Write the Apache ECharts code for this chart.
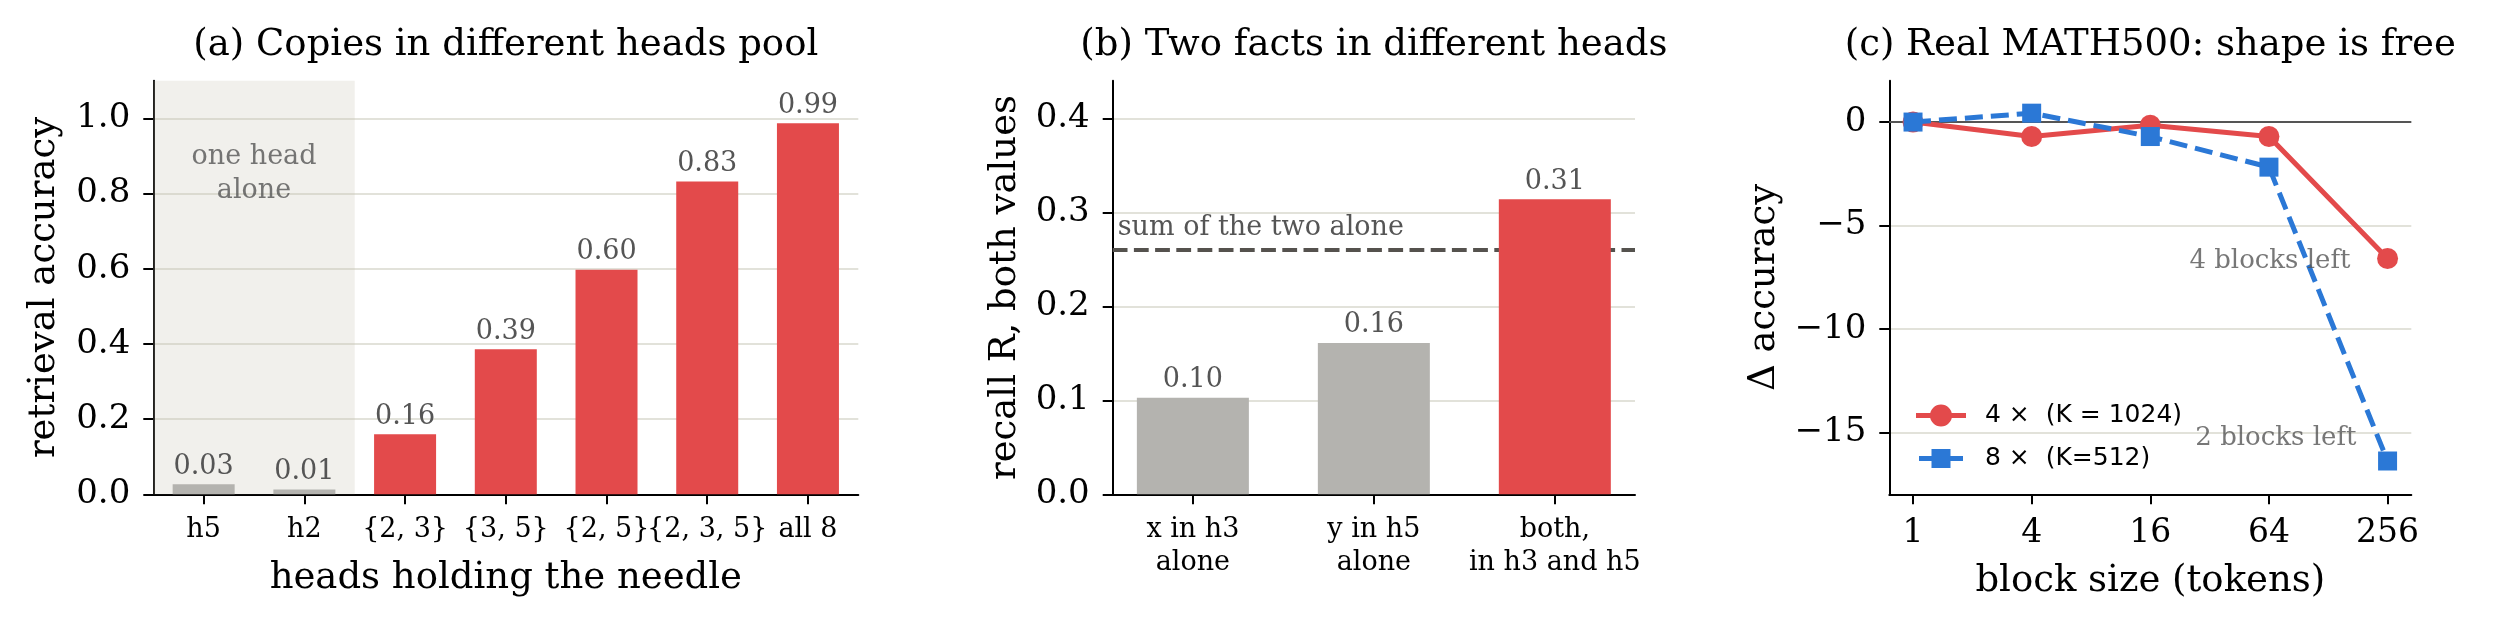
<!DOCTYPE html>
<html><head><meta charset="utf-8">
<script src="https://cdn.jsdelivr.net/npm/echarts@6/dist/echarts.min.js"></script>
<style>html,body{margin:0;padding:0;background:#fff}#c{width:2506px;height:627px}</style>
</head><body><div id="c"></div><script>
// ---- data (a) ----
const headsCats = ['h5', 'h2', '{2, 3}', '{3, 5}', '{2, 5}', '{2, 3, 5}', 'all 8'];
const headsAcc = [0.027, 0.013, 0.16, 0.386, 0.597, 0.832, 0.987];
const headsAlone = [true, true, false, false, false, false, false];
const aTicks = [0, 0.2, 0.4, 0.6, 0.8, 1.0];
const aloneSpan = [-0.5, 1.5];
const aloneNote = {text: 'one head\nalone', x: 0.5, y: 0.853};
// ---- data (b) ----
const factCats = ['x in h3\nalone', 'y in h5\nalone', 'both,\nin h3 and h5'];
const factRecall = [0.1026, 0.161, 0.314];
const factBoth = [false, false, true];
const bTicks = [0, 0.1, 0.2, 0.3, 0.4];
const sumAlone = 0.2636;
// ---- data (c) ----
const blockSizes = [1, 4, 16, 64, 256];
const acc4x = [0, -0.7, -0.15, -0.7, -6.6];
const acc8x = [0, 0.43, -0.7, -2.18, -16.39];
const cTicks = [-15, -10, -5, 0];
const cNotes = [{text: '4 blocks left', x: 166, y: -6.75}, {text: '2 blocks left', x: 178, y: -15.3}];
const seriesNames = ['4 \u00d7  (K = 1024)', '8 \u00d7  (K=512)'];

const SERIF = 'DejaVu Serif', SANS = 'DejaVu Sans';
const RED = '#e34a4b', GRAY = '#b4b3af', BLUE = '#2b78d6', TXT = '#555555', GRIDC = '#e2e2da';
// legend glyphs: thick line + marker (50x22 box)
const ICON_RED = 'path://M0,8.5L50,8.5L50,13.5L0,13.5Z M14,11A11,11 0 1,1 36,11A11,11 0 1,1 14,11Z';
const ICON_BLUE = 'path://M0,0L0.01,0L0,0.01Z M50,22L49.99,22L50,21.99Z M3,8.5L47,8.5L47,13.5L3,13.5Z M15.5,1.5L34.5,1.5L34.5,20.5L15.5,20.5Z';

const chart = echarts.init(document.getElementById('c'), null, {renderer: 'canvas'});
const minus = v => (v < 0 ? '\u2212' + Math.abs(v) : String(v));

function yAxis(gi, min, max, ticks, fmt, name, gap) {
  return {
    type: 'value', gridIndex: gi, min: min, max: max,
    axisLine: {show: true, onZero: false, lineStyle: {color: '#000', width: 2}},
    axisTick: {show: true, length: 10, customValues: ticks, lineStyle: {color: '#000', width: 2}},
    axisLabel: {customValues: ticks, formatter: fmt, margin: 23, fontFamily: SERIF, fontSize: 34, color: '#000'},
    splitLine: {show: true, lineStyle: {color: GRIDC, width: 2}},
    name: name, nameLocation: 'middle', nameGap: gap,
    nameTextStyle: {fontFamily: SERIF, fontSize: 37, color: '#000'}
  };
}
function xAxisBase(gi) {
  return {
    gridIndex: gi,
    axisLine: {show: true, onZero: false, lineStyle: {color: '#000', width: 2}},
    splitLine: {show: false}
  };
}

const option = {
  animation: false,
  backgroundColor: '#fff',
  title: [
    {text: '(a) Copies in different heads pool', left: 505.8, top: 27, textAlign: 'center', padding: 0,
     textStyle: {fontFamily: SERIF, fontSize: 37, fontWeight: 'normal', color: '#000'}},
    {text: '(b) Two facts in different heads', left: 1373.9, top: 27, textAlign: 'center', padding: 0,
     textStyle: {fontFamily: SERIF, fontSize: 37, fontWeight: 'normal', color: '#000'}},
    {text: '(c) Real MATH500: shape is free', left: 2150.3, top: 27, textAlign: 'center', padding: 0,
     textStyle: {fontFamily: SERIF, fontSize: 37, fontWeight: 'normal', color: '#000'}}
  ],
  grid: [
    {left: 153.3, top: 80.7, width: 705, height: 413.6, containLabel: false, outerBoundsMode: 'none'},
    {left: 1112.7, top: 80.7, width: 522.3, height: 413.6, containLabel: false, outerBoundsMode: 'none'},
    {left: 1889.3, top: 80.7, width: 522, height: 413.6, containLabel: false, outerBoundsMode: 'none'}
  ],
  legend: {
    left: 1911, top: 398, orient: 'vertical', itemWidth: 50, itemHeight: 22, itemGap: 18,
    symbolKeepAspect: true,
    textStyle: {fontFamily: SANS, fontSize: 25, color: '#000', padding: [0, 0, 0, 14]},
    data: [
      {name: seriesNames[0], icon: ICON_RED, itemStyle: {color: RED, borderWidth: 0}},
      {name: seriesNames[1], icon: ICON_BLUE, itemStyle: {color: BLUE, borderWidth: 0}}
    ]
  },
  xAxis: [
    Object.assign(xAxisBase(0), {
      type: 'value', min: -0.5, max: 6.5,
      axisTick: {show: true, length: 10, customValues: headsCats.map((c, i) => i), lineStyle: {color: '#000', width: 2}},
      axisLabel: {customValues: headsCats.map((c, i) => i), formatter: v => headsCats[Math.round(v)],
                  margin: 22, fontFamily: SERIF, fontSize: 27, color: '#000'},
      name: 'heads holding the needle', nameLocation: 'middle', nameGap: 66,
      nameTextStyle: {fontFamily: SERIF, fontSize: 37, color: '#000'}
    }),
    Object.assign(xAxisBase(1), {
      type: 'value', min: -0.443, max: 2.443,
      axisTick: {show: true, length: 10, customValues: factCats.map((c, i) => i), lineStyle: {color: '#000', width: 2}},
      axisLabel: {customValues: factCats.map((c, i) => i), formatter: v => factCats[Math.round(v)],
                  margin: 19, fontFamily: SERIF, fontSize: 27, lineHeight: 33, color: '#000'}
    }),
    Object.assign(xAxisBase(2), {
      type: 'log', logBase: 4, min: Math.pow(4, -0.2), max: Math.pow(4, 4.2),
      axisTick: {show: true, length: 10, customValues: blockSizes, lineStyle: {color: '#000', width: 2}},
      axisLabel: {customValues: blockSizes, formatter: v => String(Math.round(v)),
                  margin: 23, fontFamily: SERIF, fontSize: 33, color: '#000'},
      name: 'block size (tokens)', nameLocation: 'middle', nameGap: 69,
      nameTextStyle: {fontFamily: SERIF, fontSize: 37, color: '#000'}
    })
  ],
  yAxis: [
    yAxis(0, 0, 1.1, aTicks, v => v.toFixed(1), 'retrieval accuracy', 90),
    yAxis(1, 0, 0.44, bTicks, v => v.toFixed(1), 'recall R, both values', 89),
    yAxis(2, -18, 2, cTicks, minus, '\u0394 accuracy', 106)
  ],
  series: [
    // (a) shaded region + note
    {
      type: 'scatter', xAxisIndex: 0, yAxisIndex: 0, z: 1, silent: true, symbolSize: 0,
      data: [[aloneNote.x, aloneNote.y]],
      label: {show: true, position: 'inside', formatter: aloneNote.text, fontFamily: SERIF, fontSize: 27,
              lineHeight: 34, color: TXT},
      markArea: {silent: true, z: 1, itemStyle: {color: 'rgba(200,196,180,0.25)'},
                 data: [[{xAxis: aloneSpan[0]}, {xAxis: aloneSpan[1]}]]}
    },
    {
      type: 'bar', xAxisIndex: 0, yAxisIndex: 0, barWidth: 62, z: 2,
      data: headsAcc.map((v, i) => ({value: [i, v], itemStyle: {color: headsAlone[i] ? GRAY : RED}})),
      label: {show: true, position: 'top', distance: 4, formatter: p => p.value[1].toFixed(2),
              fontFamily: SERIF, fontSize: 27, color: TXT}
    },
    // (b)
    {
      type: 'bar', xAxisIndex: 1, yAxisIndex: 1, barWidth: 112, z: 2,
      data: factRecall.map((v, i) => ({value: [i, v], itemStyle: {color: factBoth[i] ? RED : GRAY}})),
      label: {show: true, position: 'top', distance: 4, formatter: p => p.value[1].toFixed(2),
              fontFamily: SERIF, fontSize: 27, color: TXT},
      markLine: {
        silent: true, z: 1, symbol: ['none', 'none'],
        lineStyle: {color: '#55524e', width: 4, type: [14.8, 6.4]},
        label: {show: true, position: 'insideStartTop', distance: [5, 8], formatter: 'sum of the two alone',
                fontFamily: SERIF, fontSize: 27, color: TXT},
        data: [{yAxis: sumAlone}]
      }
    },
    // (c)
    {
      name: seriesNames[0], type: 'line', xAxisIndex: 2, yAxisIndex: 2, z: 3,
      data: blockSizes.map((b, i) => [b, acc4x[i]]),
      symbol: 'circle', symbolSize: 21, itemStyle: {color: RED}, lineStyle: {color: RED, width: 5},
      markLine: {silent: true, z: 1, symbol: ['none', 'none'], label: {show: false},
                 lineStyle: {color: '#555555', width: 2, type: 'solid'}, data: [{yAxis: 0}]}
    },
    {
      name: seriesNames[1], type: 'line', xAxisIndex: 2, yAxisIndex: 2, z: 4,
      data: blockSizes.map((b, i) => [b, acc8x[i]]),
      symbol: 'rect', symbolSize: 19, itemStyle: {color: BLUE}, lineStyle: {color: BLUE, width: 5, type: [18, 8]}
    },
    {
      type: 'scatter', xAxisIndex: 2, yAxisIndex: 2, z: 5, silent: true, symbolSize: 0,
      data: cNotes.map(n => ({value: [n.x, n.y], label: {formatter: n.text}})),
      label: {show: true, position: 'left', distance: 0, fontFamily: SERIF, fontSize: 26, color: TXT}
    }
  ]
};
chart.setOption(option);
</script></body></html>
